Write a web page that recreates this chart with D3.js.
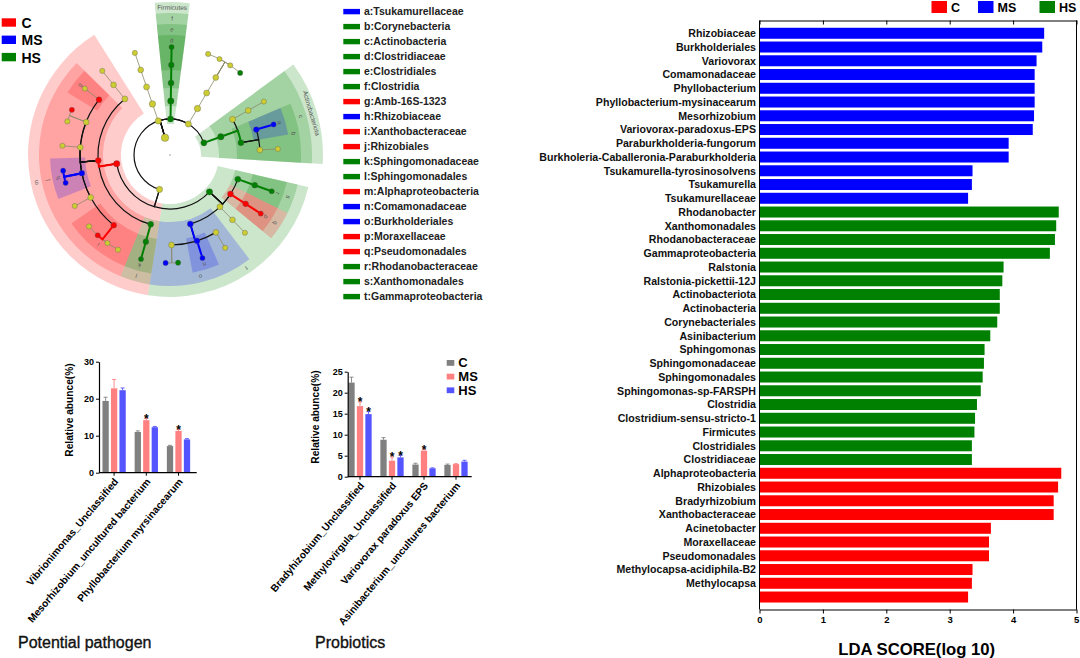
<!DOCTYPE html>
<html><head><meta charset="utf-8">
<script src="https://cdn.jsdelivr.net/npm/d3@7"></script>
<style>
body{margin:0;background:#fff;}
svg{display:block;font-family:"Liberation Sans",Arial,Helvetica,sans-serif;}
</style></head><body>
<svg id="c" width="1080" height="658"></svg>
<script>
// ================= DATA =================
const groups = ['C','MS','HS'];
const groupColors = ['#ff0000','#0000ff','#008000'];
const barColors = ['#808080','#ff8080','#5555ff'];

// ---- LDA scores ----
const ldaNames = ['Rhizobiaceae','Burkholderiales','Variovorax','Comamonadaceae','Phyllobacterium',
 'Phyllobacterium-mysinacearum','Mesorhizobium','Variovorax-paradoxus-EPS','Paraburkholderia-fungorum',
 'Burkholeria-Caballeronia-Paraburkholderia','Tsukamurella-tyrosinosolvens','Tsukamurella','Tsukamurellaceae',
 'Rhodanobacter','Xanthomonadales','Rhodanobacteraceae','Gammaproteobacteria','Ralstonia','Ralstonia-pickettii-12J',
 'Actinobacteriota','Actinobacteria','Corynebacteriales','Asinibacterium','Sphingomonas','Sphingomonadaceae',
 'Sphingomonadales','Sphingomonas-sp-FARSPH','Clostridia','Clostridium-sensu-stricto-1','Firmicutes',
 'Clostridiales','Clostridiaceae','Alphaproteobacteria','Rhizobiales','Bradyrhizobium','Xanthobacteraceae',
 'Acinetobacter','Moraxellaceae','Pseudomonadales','Methylocapsa-acidiphila-B2','Methylocapsa',''];
const ldaScores = [4.49,4.46,4.37,4.34,4.34,4.34,4.33,4.31,3.93,3.93,3.36,3.35,3.29,
 4.72,4.68,4.66,4.58,3.85,3.83,3.79,3.79,3.75,3.64,3.55,3.54,3.52,3.49,3.43,3.40,3.39,3.35,3.35,
 4.76,4.71,4.64,4.64,3.65,3.62,3.62,3.36,3.35,3.29];
const ldaGroups = ['MS','MS','MS','MS','MS','MS','MS','MS','MS','MS','MS','MS','MS',
 'HS','HS','HS','HS','HS','HS','HS','HS','HS','HS','HS','HS','HS','HS','HS','HS','HS','HS','HS',
 'C','C','C','C','C','C','C','C','C','C'];
const ldaTicks = [0,1,2,3,4,5];

// ---- Cladogram taxonomy [id, parent, enriched group] ----
const cladeTree = [
 ['Bacteria','',''],
 ['Actinobacteriota','Bacteria','HS'],
 ['Actinobacteria','Actinobacteriota','HS'],
 ['Corynebacteriales','Actinobacteria','HS'],
 ['Coryne_f1','Corynebacteriales',''],
 ['Coryne_g1','Coryne_f1',''],
 ['Tsukamurellaceae','Corynebacteriales','MS'],
 ['Tsukamurella','Tsukamurellaceae','MS'],
 ['Actino_o2','Actinobacteria',''],
 ['Actino_f2','Actino_o2',''],
 ['Actino_g2','Actino_f2',''],
 ['Bacteroidota','Bacteria',''],
 ['Bacteroidia','Bacteroidota',''],
 ['Chitinophagales','Bacteroidia',''],
 ['Chitinophagaceae','Chitinophagales',''],
 ['Asinibacterium','Chitinophagaceae','HS'],
 ['Chitino_g2','Chitinophagaceae',''],
 ['Chitino_g3','Chitinophagaceae',''],
 ['Chitino_g4','Chitinophagaceae',''],
 ['Firmicutes','Bacteria','HS'],
 ['Clostridia','Firmicutes','HS'],
 ['Clostridiales','Clostridia','HS'],
 ['Clostridiaceae','Clostridiales','HS'],
 ['Clostridium-sensu-stricto-1','Clostridiaceae','HS'],
 ['Phylum_4','Bacteria',''],
 ['Class_4','Phylum_4',''],
 ['Order_4','Class_4',''],
 ['Family_4','Order_4',''],
 ['Genus_4','Family_4',''],
 ['Proteobacteria','Bacteria',''],
 ['Alphaproteobacteria','Proteobacteria','C'],
 ['Alpha_o1','Alphaproteobacteria',''],
 ['Alpha_f1','Alpha_o1',''],
 ['Alpha_g1','Alpha_f1',''],
 ['Rhizobiales','Alphaproteobacteria','C'],
 ['Amb-16S-1323','Rhizobiales','C'],
 ['Amb_g1','Amb-16S-1323',''],
 ['Beijerinckiaceae','Rhizobiales',''],
 ['Methylocapsa','Beijerinckiaceae','C'],
 ['Beij_g2','Beijerinckiaceae',''],
 ['Rhizo_f3','Rhizobiales',''],
 ['Rhizo_g3','Rhizo_f3',''],
 ['Rhizobiaceae','Rhizobiales','MS'],
 ['Mesorhizobium','Rhizobiaceae','MS'],
 ['Phyllobacterium','Rhizobiaceae','MS'],
 ['Rhizo_f5','Rhizobiales',''],
 ['Rhizo_g5','Rhizo_f5',''],
 ['Xanthobacteraceae','Rhizobiales','C'],
 ['Xantho_g1','Xanthobacteraceae',''],
 ['Bradyrhizobium','Xanthobacteraceae','C'],
 ['Xantho_g3','Xanthobacteraceae',''],
 ['Xantho_g4','Xanthobacteraceae',''],
 ['Sphingomonadales','Alphaproteobacteria','HS'],
 ['Sphingomonadaceae','Sphingomonadales','HS'],
 ['Sphingomonas','Sphingomonadaceae','HS'],
 ['Gammaproteobacteria','Proteobacteria','HS'],
 ['Burkholderiales','Gammaproteobacteria','MS'],
 ['Burkholderiaceae','Burkholderiales',''],
 ['Paraburkholderia','Burkholderiaceae','MS'],
 ['Ralstonia','Burkholderiaceae','HS'],
 ['Comamonadaceae','Burkholderiales','MS'],
 ['Variovorax','Comamonadaceae','MS'],
 ['Burk_f3','Burkholderiales',''],
 ['Burk_g3','Burk_f3',''],
 ['Gamma_o2','Gammaproteobacteria',''],
 ['Gamma_f2','Gamma_o2',''],
 ['Gamma_g2','Gamma_f2',''],
 ['Pseudomonadales','Gammaproteobacteria','C'],
 ['Moraxellaceae','Pseudomonadales','C'],
 ['Acinetobacter','Moraxellaceae','C'],
 ['Xanthomonadales','Gammaproteobacteria','HS'],
 ['Rhodanobacteraceae','Xanthomonadales','HS'],
 ['Rhodanobacter','Rhodanobacteraceae','HS']
];
const legendLetters = ['a','b','c','d','e','f','g','h','i','j','k','l','m','n','o','p','q','r','s','t'];
const legendLabels = ['Tsukamurellaceae','Corynebacteria','Actinobacteria','Clostridiaceae','Clostridiales',
 'Clostridia','Amb-16S-1323','Rhizobiaceae','Xanthobacteraceae','Rhizobiales','Sphingomonadaceae',
 'Sphingomonadales','Alphaproteobacteria','Comamonadaceae','Burkholderiales','Moraxellaceae',
 'Pseudomonadales','Rhodanobacteraceae','Xanthomonadales','Gammaproteobacteria'];
const legendNodes = ['Tsukamurellaceae','Corynebacteriales','Actinobacteria','Clostridiaceae','Clostridiales',
 'Clostridia','Amb-16S-1323','Rhizobiaceae','Xanthobacteraceae','Rhizobiales','Sphingomonadaceae',
 'Sphingomonadales','Alphaproteobacteria','Comamonadaceae','Burkholderiales','Moraxellaceae',
 'Pseudomonadales','Rhodanobacteraceae','Xanthomonadales','Gammaproteobacteria'];

// ---- Potential pathogen ----
const pathogenCats = ['Vibrionimonas_Unclassified','Mesorhizobium_uncultured bacterium','Phyllobacterium myrsinacearum'];
const pathogenC  = [19.4, 11.0, 7.2];
const pathogenMS = [22.8, 14.2, 11.3];
const pathogenHS = [22.3, 12.3, 9.0];
const pathogenErrC  = [1.0, 0.3, 0.2];
const pathogenErrMS = [2.4, 0.5, 0.4];
const pathogenErrHS = [0.6, 0.2, 0.2];
const pathogenStarMS = [0, 1, 1];
const pathogenStarHS = [0, 0, 0];
const pathogenTicks = [0, 10, 20, 30];

// ---- Probiotics ----
const probioCats = ['Bradyhizobium_Unclassified','Methylovirgula_Unclassified','Variovorax paradoxus EPS','Asinibacterium_uncultures bacterium'];
const probioC  = [22.4, 8.8, 2.9, 2.8];
const probioMS = [16.8, 3.8, 6.2, 3.0];
const probioHS = [14.9, 4.6, 2.0, 3.6];
const probioErrC  = [1.3, 0.5, 0.3, 0.2];
const probioErrMS = [1.0, 0.9, 0.3, 0.1];
const probioErrHS = [0.6, 0.5, 0.1, 0.3];
const probioStarMS = [1, 1, 1, 0];
const probioStarHS = [1, 1, 0, 0];
const probioTicks = [0, 5, 10, 15, 20, 25];

// ================= DRAW =================
const FONT = '"Liberation Sans",Arial,Helvetica,sans-serif';
const svg = d3.select('#c');
svg.append('rect').attr('width',1080).attr('height',658).attr('fill','#fff');
const colorOf = g => g ? groupColors[groups.indexOf(g)] : '#cccc33';
function styleAxis(g, size){
  g.attr('font-family',FONT).attr('font-size',size).attr('font-weight','bold');
  g.selectAll('path,line').attr('stroke','#000').attr('stroke-width',1);
  g.selectAll('text').attr('fill','#000');
}

// ---------- LDA chart ----------
(function(){
  const x = d3.scaleLinear().domain([0,5]).range([759.5,1076.5]);
  const y = d3.scaleBand().domain(d3.range(ldaNames.length)).range([26.4,603.9]).paddingInner(0.2).paddingOuter(0.1);
  const g = svg.append('g');
  g.selectAll('rect.bar').data(ldaScores).join('rect')
    .attr('x',x(0)).attr('y',(d,i)=>y(i)).attr('width',d=>x(d)-x(0)).attr('height',y.bandwidth())
    .attr('fill',(d,i)=>colorOf(ldaGroups[i]));
  g.selectAll('text.lab').data(ldaNames).join('text')
    .attr('x',756).attr('y',(d,i)=>y(i)+y.bandwidth()/2).attr('dy','0.36em')
    .attr('text-anchor','end').attr('font-size',10.6).attr('font-weight','bold').attr('fill','#111').text(d=>d);
  const ab = g.append('g').attr('transform','translate(0,609.5)')
    .call(d3.axisBottom(x).tickValues(ldaTicks).tickFormat(d3.format('d')).tickSize(4).tickSizeOuter(0).tickPadding(3));
  styleAxis(ab, 9.5);
  ab.selectAll('.tick:last-of-type text').attr('text-anchor','end').attr('dx','0.25em');
  const at = g.append('g').attr('transform','translate(0,20.5)')
    .call(d3.axisTop(x).tickValues(ldaTicks).tickSize(-4).tickSizeOuter(0).tickFormat(''));
  styleAxis(at, 9);
  g.append('line').attr('x1',x(0)).attr('x2',x(0)).attr('y1',20.5).attr('y2',609.5).attr('stroke','#000');
  g.append('line').attr('x1',x(5)).attr('x2',x(5)).attr('y1',20.5).attr('y2',609.5).attr('stroke','#000');
  g.append('text').attr('x',916.7).attr('y',654.5).attr('text-anchor','middle').attr('font-size',16.7)
    .attr('font-weight','bold').text('LDA SCORE(log 10)');
  // legend
  const lx = [931.5, 978, 1039.5];
  groups.forEach((gr,i)=>{
    g.append('rect').attr('x',lx[i]).attr('y',1).attr('width',15.5).attr('height',12).attr('fill',groupColors[i]);
    g.append('text').attr('x',lx[i]+19.5).attr('y',12).attr('font-size',12.5).attr('font-weight','bold').text(gr);
  });
})();

// ---------- Cladogram ----------
(function(){
  const cx = 170, cy = 155;
  const rows = cladeTree.map(([id,parent,group])=>({id,parent,group}));
  const root = d3.stratify().id(d=>d.id).parentId(d=>d.parent || null)(rows);
  const phylumOf = n => n.ancestors().find(a=>a.depth===1);
  const sep = (a,b)=> a.parent===b.parent ? 1 : (phylumOf(a)===phylumOf(b) ? 2 : 3);
  const sweep = 357, ang0 = -6.7;
  d3.cluster().size([sweep,1]).separation(sep)(root);
  const leaves = root.leaves();
  let units = sep(leaves[leaves.length-1], leaves[0]);
  for(let i=1;i<leaves.length;i++) units += sep(leaves[i-1],leaves[i]);
  const unitDeg = sweep/units;
  const rad = d => 18*(d+1);
  const toXY = (r,t)=>[cx + r*Math.cos(t*Math.PI/180), cy - r*Math.sin(t*Math.PI/180)];
  root.each(n=>{ n.theta = ang0 + n.x; n.r = rad(n.depth); [n.px,n.py] = toXY(n.r,n.theta); });

  const g = svg.append('g');
  const letterOf = new Map(legendNodes.map((n,i)=>[n,legendLetters[i]]));
  // shaded clades
  const marked = root.descendants().filter(n=>n.data.group && n.depth>=1 && n.depth<=4)
    .sort((a,b)=>a.depth-b.depth);
  const arcGen = d3.arc();
  const labels = [];
  marked.forEach(n=>{
    const th = n.leaves().map(l=>l.theta);
    const t1 = d3.min(th)-unitDeg, t2 = d3.max(th)+unitDeg;
    const rIn = n.r-5, rOut = 153 - 11*(n.depth-1);
    g.append('path').attr('transform',`translate(${cx},${cy})`)
      .attr('d',arcGen({innerRadius:rIn,outerRadius:rOut,startAngle:(90-t2)*Math.PI/180,endAngle:(90-t1)*Math.PI/180}))
      .attr('fill',colorOf(n.data.group)).attr('fill-opacity',0.2);
    const lab = letterOf.get(n.id) || (n.depth===1 ? n.id : null);
    if(lab) labels.push({lab, t:(t1+t2)/2, r:rOut-5.5, big: lab.length>1});
  });
  // links
  function linkPath(p,c){
    const [x1,y1] = toXY(c.r,p.theta), [x2,y2] = toXY(c.r,c.theta);
    const dt = c.theta - p.theta;
    const large = Math.abs(dt)>180 ? 1 : 0, sw = dt>0 ? 0 : 1;
    return `M${p.px},${p.py}L${x1},${y1}A${c.r},${c.r} 0 ${large} ${sw} ${x2},${y2}`;
  }
  const links = root.links();
  const same = l => l.source.data.group && l.source.data.group===l.target.data.group
                    && Math.abs(l.target.theta - l.source.theta) < 15;
  links.filter(l=>!same(l)).forEach(l=>{
    const strong = l.target.children && l.source.children.length>1;
    g.append('path').attr('d',linkPath(l.source,l.target)).attr('fill','none')
      .attr('stroke',strong ? '#111' : '#8a8a6a').attr('stroke-width',strong?1.2:0.8);
  });
  links.filter(same).forEach(l=>{
    g.append('path').attr('d',linkPath(l.source,l.target)).attr('fill','none')
      .attr('stroke',colorOf(l.source.data.group)).attr('stroke-width',2);
  });
  // nodes
  const nodeR = [3.8,3.1,3.2,3.0,2.9,2.6];
  g.selectAll('circle.node').data(root.descendants()).join('circle')
    .attr('cx',d=>d.px).attr('cy',d=>d.py).attr('r',d=>nodeR[d.depth])
    .attr('fill',d=>colorOf(d.data.group)).attr('stroke','#555').attr('stroke-width',0.35);
  g.append('circle').attr('cx',cx).attr('cy',cy).attr('r',0.8).attr('fill','#999');
  // clade labels
  labels.forEach(d=>{
    const [x,y] = toXY(d.r,d.t);
    g.append('text').attr('transform',`translate(${x},${y}) rotate(${90-d.t})`)
      .attr('text-anchor','middle').attr('dy','0.35em').attr('font-size',d.big?6.5:6)
      .attr('fill','#555').text(d.lab);
  });
  // group legend
  groups.forEach((gr,i)=>{
    g.append('rect').attr('x',1.7).attr('y',18.3+17.3*i).attr('width',14.3).attr('height',8.4).attr('fill',groupColors[i]);
    g.append('text').attr('x',21.5).attr('y',28+17.3*i).attr('font-size',14).attr('font-weight','bold').text(gr);
  });
  // letter legend
  const byId = new Map(root.descendants().map(n=>[n.id,n]));
  legendLetters.forEach((L,i)=>{
    const yc = 11.5 + 15.0*i;
    g.append('rect').attr('x',343.3).attr('y',yc-2.6).attr('width',16.7).attr('height',5.4)
      .attr('fill',colorOf(byId.get(legendNodes[i]).data.group));
    g.append('text').attr('x',364).attr('y',yc).attr('dy','0.36em').attr('font-size',10.5)
      .attr('font-weight','bold').attr('fill','#222').text(L+':'+legendLabels[i]);
  });
})();

// ---------- grouped bar charts ----------
function barChart(o){
  const g = svg.append('g');
  const x0 = d3.scaleBand().domain(o.cats).range(o.xr);
  const x1 = d3.scaleBand().domain(groups).range([-11.65,11.65]).paddingInner(0.26);
  const y = d3.scaleLinear().domain([0,o.ymax]).range([o.y0,o.y1]);
  const bw = x1.bandwidth();
  groups.forEach((gr,gi)=>{
    o.vals[gi].forEach((v,ci)=>{
      const bx = x0(o.cats[ci]) + x0.bandwidth()/2 + x1(gr);
      const c = bx + bw/2;
      const top = y(v + o.errs[gi][ci]);
      g.append('line').attr('x1',c).attr('x2',c).attr('y1',y(v)).attr('y2',top).attr('stroke',barColors[gi]).attr('stroke-width',0.9);
      g.append('line').attr('x1',c-2).attr('x2',c+2).attr('y1',top).attr('y2',top).attr('stroke',barColors[gi]).attr('stroke-width',0.9);
      g.append('rect').attr('x',bx).attr('y',y(v)).attr('width',bw).attr('height',y(0)-y(v)).attr('fill',barColors[gi]);
      if(o.stars[gi] && o.stars[gi][ci]){
        g.append('text').attr('x',c).attr('y',top+4.5).attr('text-anchor','middle')
          .attr('font-size',12).attr('font-weight','bold').text('*');
      }
    });
  });
  const ay = g.append('g').attr('transform',`translate(${o.ax0},0)`)
    .call(d3.axisLeft(y).tickValues(o.ticks).tickSize(3).tickSizeOuter(0).tickPadding(2));
  styleAxis(ay, 9);
  ay.select('.domain').attr('stroke-width',1.2);
  g.append('line').attr('x1',o.ax0).attr('x2',o.ax1).attr('y1',o.y0).attr('y2',o.y0).attr('stroke','#000').attr('stroke-width',1.2);
  o.cats.forEach(cat=>{
    const c = x0(cat)+x0.bandwidth()/2;
    g.append('line').attr('x1',c).attr('x2',c).attr('y1',o.y0).attr('y2',o.y0+3).attr('stroke','#000');
    g.append('text').attr('transform',`translate(${c+2},${o.y0+7}) rotate(-50)`)
      .attr('text-anchor','end').attr('dy','0.35em').attr('font-size',10.2).attr('font-weight','bold').text(cat);
  });
  g.append('text').attr('transform',`translate(${o.ytx},${o.yty}) rotate(-90)`).attr('text-anchor','middle')
    .attr('dy','0.35em').attr('font-size',10.2).attr('font-weight','bold').text('Relative abunce(%)');
  g.append('text').attr('x',o.tx).attr('y',648).attr('font-size',16).attr('fill','#111')
    .attr('stroke','#111').attr('stroke-width',0.35).text(o.title);
  if(o.legend){
    groups.forEach((gr,i)=>{
      g.append('rect').attr('x',446.7).attr('y',360+13.7*i).attr('width',7.6).attr('height',5.8).attr('fill',barColors[i]);
      g.append('text').attr('x',458.3).attr('y',367.3+13.7*i).attr('font-size',13).attr('font-weight','bold').text(gr);
    });
  }
}
barChart({cats:pathogenCats, vals:[pathogenC,pathogenMS,pathogenHS], errs:[pathogenErrC,pathogenErrMS,pathogenErrHS],
  stars:[null,pathogenStarMS,pathogenStarHS], ticks:pathogenTicks, ymax:30, xr:[98,194.6], ax0:99, ax1:196.7,
  y0:472.7, y1:361.7, ytx:69.3, yty:410, tx:18, title:'Potential pathogen', legend:false});
barChart({cats:probioCats, vals:[probioC,probioMS,probioHS], errs:[probioErrC,probioErrMS,probioErrHS],
  stars:[null,probioStarMS,probioStarHS], ticks:probioTicks, ymax:25, xr:[344,472], ax0:347.7, ax1:471.7,
  y0:476.7, y1:371.7, ytx:315, yty:417, tx:315, title:'Probiotics', legend:true});
</script>
</body></html>
